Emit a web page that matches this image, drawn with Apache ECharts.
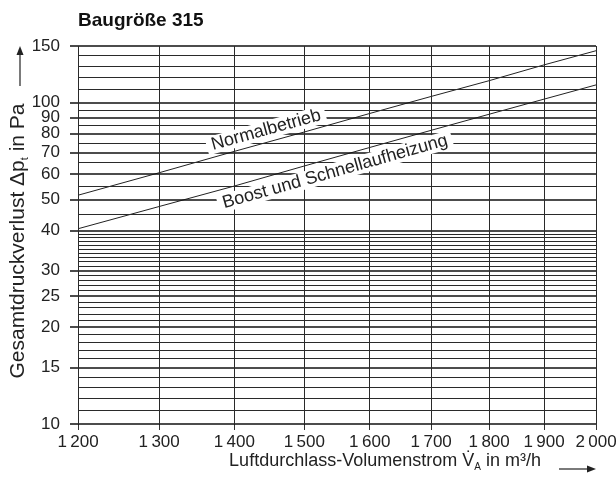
<!DOCTYPE html>
<html><head><meta charset="utf-8">
<script src="https://cdn.jsdelivr.net/npm/echarts@6/dist/echarts.min.js"></script>
<style>html,body{margin:0;padding:0;background:#fff}#c{width:616px;height:488px}</style>
</head><body><div id="c"></div>
<script>
// ---- data ----
const xTicks = [1200, 1300, 1400, 1500, 1600, 1700, 1800, 1900, 2000];
const xTickLabels = ['1\u2009200', '1\u2009300', '1\u2009400', '1\u2009500', '1\u2009600', '1\u2009700', '1\u2009800', '1\u2009900', '2\u2009000'];
const yTicks = [10, 15, 20, 25, 30, 40, 50, 60, 70, 80, 90, 100, 150];
const yMinor = [11, 12, 13, 14, 16, 17, 18, 19, 21, 22, 23, 24, 26, 27, 28, 29,
  31, 32, 33, 34, 35, 36, 37, 38, 39, 45, 55, 65, 75, 85, 95, 110, 120, 130, 140];
const flowValues = [1200, 1300, 1400, 1500, 1600, 1700, 1800, 1900, 2000];
const normalValues = [51.5, 60.5, 70.5, 81, 92.5, 104.5, 117, 131, 145];
const boostValues = [40.5, 47.5, 55, 63.5, 72.5, 82, 92, 102.5, 113.5];
const normalName = 'Normalbetrieb';
const boostName = 'Boost und Schnellaufheizung';

const FONT = '"Liberation Sans", Arial, Helvetica, sans-serif';
const chart = echarts.init(document.getElementById('c'));

const gridLines = []
  .concat(yMinor.map(v => ({ yAxis: v, lineStyle: { color: '#2a2a2a', width: 1, type: 'solid' } })))
  .concat(yTicks.map(v => ({ yAxis: v, lineStyle: { color: '#111', width: 1.5, type: 'solid' } })))
  .concat(xTicks.map(v => ({ xAxis: v, lineStyle: { color: '#2a2a2a', width: 1, type: 'solid' } })));

const option = {
  animation: false,
  backgroundColor: '#fff',
  title: {
    text: 'Baugröße 315', left: 78, top: 11, padding: 0,
    textStyle: { fontFamily: FONT, fontSize: 19, fontWeight: 'bold', color: '#111' }
  },
  grid: { left: 78, right: 20, top: 46, bottom: 64, containLabel: false, outerBoundsMode: 'none' },
  xAxis: {
    type: 'log', logBase: 10, min: 1200, max: 2000,
    name: 'Luftdurchlass-Volumenstrom V\u0307{sub|A} in m³/h',
    nameLocation: 'middle', nameGap: 26, nameMoveOverlap: false,
    nameTextStyle: { fontFamily: FONT, fontSize: 18, color: '#222', lineHeight: 22, padding: [0, 0, 0, 96],
      rich: { sub: { fontFamily: FONT, fontSize: 10, lineHeight: 10, verticalAlign: 'bottom', color: '#222' } } },
    axisLine: { show: false },
    axisTick: { show: true, customValues: xTicks, length: 6, inside: false, lineStyle: { color: '#333', width: 1 } },
    axisLabel: { customValues: xTicks, margin: 10, fontFamily: FONT, fontSize: 17, color: '#222',
      formatter: v => { const i = xTicks.indexOf(Math.round(v)); return i >= 0 ? xTickLabels[i] : ''; } },
    splitLine: { show: false }, minorTick: { show: false }, minorSplitLine: { show: false }
  },
  yAxis: {
    type: 'log', logBase: 10, min: 10, max: 150,
    name: 'Gesamtdruckverlust Δp{sub|t} in Pa',
    nameLocation: 'middle', nameGap: 48, nameRotate: 90, nameMoveOverlap: false,
    nameTextStyle: { fontFamily: FONT, fontSize: 21, color: '#222', lineHeight: 24, padding: [0, 12, 0, 0],
      rich: { sub: { fontFamily: FONT, fontSize: 11, lineHeight: 10, verticalAlign: 'bottom', color: '#222' } } },
    axisLine: { show: false },
    axisTick: { show: true, customValues: yTicks, length: 8, inside: false, lineStyle: { color: '#111', width: 1.5 } },
    axisLabel: { customValues: yTicks, margin: 18, fontFamily: FONT, fontSize: 17, color: '#222',
      formatter: v => String(Math.round(v)) },
    splitLine: { show: false }, minorTick: { show: false }, minorSplitLine: { show: false }
  },
  series: [
    {
      type: 'line', data: [], z: 1, silent: true,
      markLine: { silent: true, symbol: ['none', 'none'], label: { show: false }, animation: false,
        lineStyle: { type: 'solid' }, data: gridLines }
    },
    {
      type: 'line', name: normalName, z: 3, symbol: 'none', silent: true,
      lineStyle: { color: '#222', width: 1 },
      data: flowValues.map((x, i) => [x, normalValues[i]])
    },
    {
      type: 'line', name: boostName, z: 3, symbol: 'none', silent: true,
      lineStyle: { color: '#222', width: 1 },
      data: flowValues.map((x, i) => [x, boostValues[i]])
    }
  ]
};
chart.setOption(option);

function px(x, y) { return chart.convertToPixel({ gridIndex: 0 }, [x, y]); }
function lineLabel(text, ys, i, off, along) {
  const a = px(flowValues[i], ys[i]), b = px(flowValues[i + 1], ys[i + 1]);
  const ang = Math.atan2(a[1] - b[1], b[0] - a[0]);
  const mx = (a[0] + b[0]) / 2, my = (a[1] + b[1]) / 2;
  const cx = mx - Math.sin(ang) * off + Math.cos(ang) * along;
  const cy = my - Math.cos(ang) * off - Math.sin(ang) * along;
  return {
    type: 'text', x: cx, y: cy, rotation: ang, z: 100,
    style: { text, fontFamily: FONT, fontSize: 18, fill: '#222', align: 'center', verticalAlign: 'middle',
      backgroundColor: '#fff', padding: [0, 5] }
  };
}

chart.setOption({
  graphic: [
    lineLabel(normalName, normalValues, 2, 12, 0),
    lineLabel(boostName, boostValues, 3, -14, -6),
    { type: 'line', z: 100, shape: { x1: 20, y1: 86, x2: 20, y2: 54 }, style: { stroke: '#222', lineWidth: 1.2 } },
    { type: 'polygon', z: 100, shape: { points: [[20, 46], [16.5, 55], [23.5, 55]] }, style: { fill: '#222' } },
    { type: 'line', z: 100, shape: { x1: 559, y1: 469, x2: 588, y2: 469 }, style: { stroke: '#222', lineWidth: 1.2 } },
    { type: 'polygon', z: 100, shape: { points: [[596, 469], [587, 465.5], [587, 472.5]] }, style: { fill: '#222' } }
  ]
});
</script>
</body></html>
